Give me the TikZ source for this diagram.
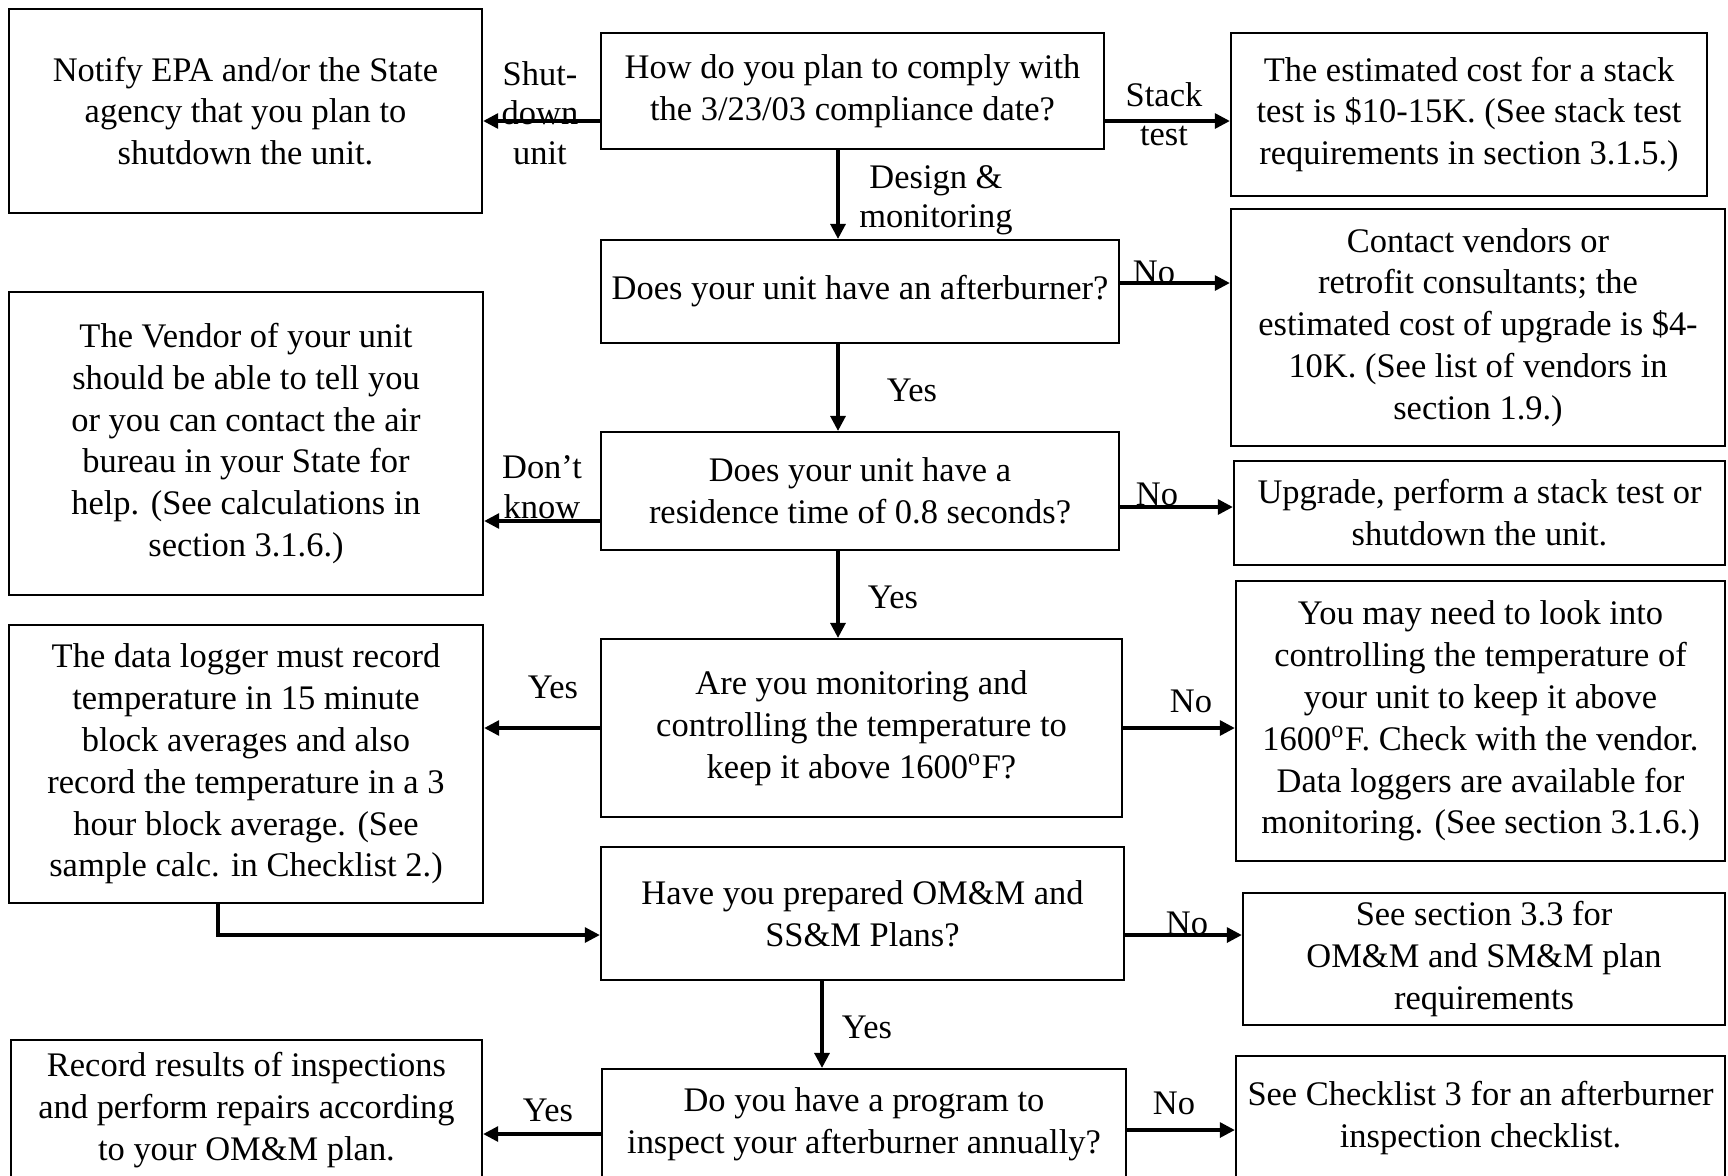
\documentclass[tikz,border=0pt]{standalone}
\usepackage{fontspec}
\setmainfont{Liberation Serif}
\usetikzlibrary{arrows.meta}
\tikzset{%
   box/.style={draw=black, line width=0.6pt, align=center, inner sep=0pt,
     font=\fontsize{9.8}{11.9}\selectfont},
   arr/.style={-{Triangle[length=1.5mm, width=1.5mm]}, line width=0.9pt},
   lbl/.style={align=center, inner sep=0pt, font=\fontsize{9.8}{11.2}\selectfont},
}

\begin{document}
\begin{tikzpicture}[x=0.01cm, y=-0.01cm]
      \useasboundingbox (0,0) rectangle (1728,1175);
      % left column
      \node[box, minimum width=4.73cm, minimum height=2.04cm] (notify) at (245.5,111)
        {Notify EPA and/or the State\\agency that you plan to\\shutdown the unit.};
      \node[box, minimum width=4.74cm, minimum height=3.03cm] (vendor) at (246,443.5)
        {The Vendor of your unit\\should be able to tell you\\or you can contact the air\\bureau in your State for\\help. (See calculations in\\section 3.1.6.)};
      \node[box, minimum width=4.74cm, minimum height=2.78cm] (logger) at (246,764)
        {The data logger must record\\temperature in 15 minute\\block averages and also\\record the temperature in a 3\\hour block average. (See\\sample calc. in Checklist 2.)};
      \node[box, minimum width=4.71cm, minimum height=1.40cm] (record) at (246.5,1110)
        {Record results of inspections\\and perform repairs according\\to your OM\&M plan.};
      % middle column
      \node[box, minimum width=5.03cm, minimum height=1.16cm] (comply) at (852.5,91)
        {How do you plan to comply with\\the 3/23/03 compliance date?};
      \node[box, minimum width=5.18cm, minimum height=1.03cm] (burner) at (860,291.5)
        {Does your unit have an afterburner?};
      \node[box, minimum width=5.18cm, minimum height=1.18cm] (resid) at (860,491)
        {Does your unit have a\\residence time of 0.8 seconds?};
      \node[box, minimum width=5.21cm, minimum height=1.78cm] (monitor) at (861.5,728)
        {Are you monitoring and\\controlling the temperature to\\keep it above 1600\textsuperscript{o}F?};
      \node[box, minimum width=5.23cm, minimum height=1.33cm] (omm) at (862.5,913.5)
        {Have you prepared OM\&M and\\SS\&M Plans?};
      \node[box, minimum width=5.24cm, minimum height=1.11cm] (inspect) at (864,1124.5)
        {Do you have a program to\\inspect your afterburner annually?};
      % right column
      \node[box, minimum width=4.76cm, minimum height=1.63cm] (stack) at (1469,114.5)
        {The estimated cost for a stack\\test is \$10-15K. (See stack test\\requirements in section 3.1.5.)};
      \node[box, minimum width=4.94cm, minimum height=2.37cm] (upgcost) at (1478,327.5)
        {Contact vendors or\\retrofit consultants; the\\estimated cost of upgrade is \$4-\\10K. (See list of vendors in\\section 1.9.)};
      \node[box, minimum width=4.91cm, minimum height=1.04cm] (upgrade) at (1479.5,513)
        {Upgrade, perform a stack test or\\shutdown the unit.};
      \node[box, minimum width=4.89cm, minimum height=2.80cm] (maybe) at (1480.5,721)
        {You may need to look into\\controlling the temperature of\\your unit to keep it above\\1600\textsuperscript{o}F. Check with the vendor.\\Data loggers are available for\\monitoring. (See section 3.1.6.)};
      \node[box, minimum width=4.82cm, minimum height=1.32cm] (sec33) at (1484,959)
        {See section 3.3 for\\OM\&M and SM\&M plan\\requirements};
      \node[box, minimum width=4.89cm, minimum height=1.24cm] (check3) at (1480.5,1118)
        {See Checklist 3 for an afterburner\\inspection checklist.};
      % rows and columns of the connectors
      \coordinate (r1) at (0,121);
      \coordinate (r2) at (0,283);
      \coordinate (r3) at (0,521);
      \coordinate (r3b) at (0,507);
      \coordinate (r4) at (0,728);
      \coordinate (r5) at (0,935);
      \coordinate (r6) at (0,1134);
      \coordinate (r6b) at (0,1130);
      \coordinate (c1) at (838,0);
      \coordinate (c2) at (822,0);
      \coordinate (c3) at (218,0);
      \draw[arr] (comply.west |- r1) -- (notify.east |- r1);
      \draw[arr] (comply.east |- r1) -- (stack.west |- r1);
      \draw[arr] (comply.south -| c1) -- (burner.north -| c1);
      \draw[arr] (burner.east |- r2) -- (upgcost.west |- r2);
      \draw[arr] (burner.south -| c1) -- (resid.north -| c1);
      \draw[arr] (resid.west |- r3) -- (vendor.east |- r3);
      \draw[arr] (resid.east |- r3b) -- (upgrade.west |- r3b);
      \draw[arr] (resid.south -| c1) -- (monitor.north -| c1);
      \draw[arr] (monitor.west |- r4) -- (logger.east |- r4);
      \draw[arr] (monitor.east |- r4) -- (maybe.west |- r4);
      \draw[arr] (logger.south -| c3) |- (omm.west |- r5);
      \draw[arr] (omm.east |- r5) -- (sec33.west |- r5);
      \draw[arr] (omm.south -| c2) -- (inspect.north -| c2);
      \draw[arr] (inspect.west |- r6) -- (record.east |- r6);
      \draw[arr] (inspect.east |- r6b) -- (check3.west |- r6b);
      % labels
      \node[lbl] (shut) at (540,113) {Shut-\\down\\unit};
      \node[lbl] (stk) at (1164,114) {Stack\\test};
      \node[lbl] (dsn) at (936,200) {Design \&\\monitoring};
      \node[lbl] (no1) at (1154,272) {No};
      \node[lbl] (yes1) at (912,390) {Yes};
      \node[lbl] (dk) at (542,487) {Don't\\know};
      \node[lbl] (no2) at (1157,494) {No};
      \node[lbl] (yes2) at (893,597) {Yes};
      \node[lbl] (yes3) at (553,687) {Yes};
      \node[lbl] (no3) at (1191,701) {No};
      \node[lbl] (no4) at (1187,923) {No};
      \node[lbl] (yes4) at (867,1027) {Yes};
      \node[lbl] (yes5) at (548,1110) {Yes};
      \node[lbl] (no5) at (1174,1103) {No};
\end{tikzpicture}
\end{document}
